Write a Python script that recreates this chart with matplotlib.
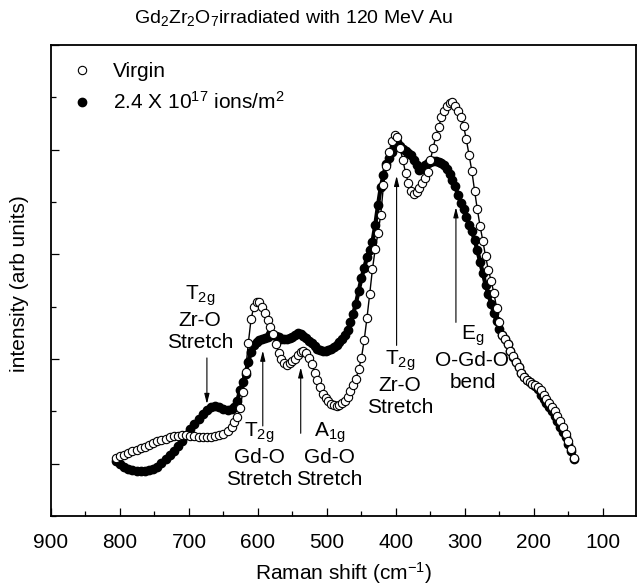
import matplotlib
matplotlib.use('Agg')
import matplotlib.pyplot as plt
from matplotlib.ticker import MultipleLocator

plt.rcParams['font.family'] = ['Liberation Sans', 'DejaVu Sans']
plt.rcParams['mathtext.fontset'] = 'custom'
plt.rcParams['mathtext.rm'] = 'Liberation Sans'
plt.rcParams['mathtext.it'] = 'Liberation Sans:italic'
plt.rcParams['mathtext.default'] = 'regular'

# Raman shift (cm^-1), shared by both spectra
raman_shift = [
    806, 800, 794, 788, 782, 776, 770, 764, 758, 752, 746, 740, 734, 728, 722,
    716, 710, 704, 698, 692, 686, 680, 674, 668, 662, 656, 650, 644, 638,
    634, 630, 626, 622, 618, 614, 610, 606, 602, 598, 594, 590, 586, 582, 578,
    574, 570, 566, 562, 558, 554, 550, 546, 542, 538, 534, 530, 526, 522, 518,
    514, 510, 506, 502, 498, 494, 490, 486, 482, 478, 474, 470, 466, 462, 458,
    454, 450, 446, 442, 438, 434, 430, 426, 422, 418, 414, 410, 406, 402, 398,
    394, 390, 386, 382, 378, 374, 370, 366, 362, 358, 354, 350, 346, 342, 338,
    334, 330, 326, 322, 318, 314, 310, 306, 302, 298, 294, 290, 286, 282, 278,
    274, 270, 266, 262, 258, 254, 250, 246, 242, 238, 234, 230, 226, 222, 218,
    214, 210, 206, 202, 198, 194, 190, 186, 182, 178, 174, 170, 166, 162, 158,
    154, 150, 146, 142,
]

virgin = [
    0.05, 0.07, 0.08, 0.10, 0.12, 0.13, 0.15, 0.16, 0.18, 0.20, 0.22, 0.23, 0.24, 0.25, 0.26,
    0.26, 0.27, 0.27, 0.26, 0.26, 0.25, 0.25, 0.25, 0.25, 0.26, 0.27, 0.28, 0.31, 0.35,
    0.40, 0.45, 0.53, 0.68, 0.88, 1.15, 1.38, 1.50, 1.54, 1.54, 1.50, 1.44, 1.37, 1.31, 1.24,
    1.14, 1.06, 1.00, 0.96, 0.94, 0.96, 0.98, 1.00, 1.04, 1.07, 1.08, 1.06, 1.01, 0.95, 0.87,
    0.80, 0.73, 0.67, 0.63, 0.60, 0.57, 0.56, 0.55, 0.56, 0.58, 0.60, 0.64, 0.69, 0.75, 0.81,
    0.90, 1.01, 1.18, 1.39, 1.62, 1.86, 2.05, 2.20, 2.38, 2.66, 2.84, 2.98, 3.08, 3.14, 3.12,
    3.02, 2.90, 2.78, 2.68, 2.61, 2.58, 2.60, 2.63, 2.68, 2.73, 2.79, 2.90, 3.02, 3.13, 3.22,
    3.31, 3.37, 3.42, 3.45, 3.46, 3.42, 3.37, 3.31, 3.23, 3.10, 2.95, 2.80, 2.61, 2.43, 2.27,
    2.13, 1.98, 1.85, 1.75, 1.63, 1.49, 1.35, 1.23, 1.19, 1.14, 1.08, 1.03, 0.97, 0.92, 0.87,
    0.83, 0.80, 0.78, 0.76, 0.75, 0.73, 0.70, 0.66, 0.62, 0.58, 0.54, 0.50, 0.46, 0.41, 0.35,
    0.28, 0.22, 0.14, 0.05,
]

irradiated = [
    0.03, 0.00, -0.03, -0.05, -0.06, -0.07, -0.07, -0.07, -0.06, -0.05, -0.03, 0.01, 0.04, 0.08, 0.12,
    0.17, 0.22, 0.27, 0.33, 0.38, 0.43, 0.47, 0.51, 0.54, 0.55, 0.54, 0.52, 0.51, 0.52,
    0.54, 0.60, 0.70, 0.78, 0.86, 0.97, 1.07, 1.13, 1.16, 1.18, 1.19, 1.20, 1.21, 1.24, 1.23,
    1.22, 1.21, 1.19, 1.19, 1.19, 1.20, 1.21, 1.23, 1.25, 1.24, 1.22, 1.20, 1.17, 1.15, 1.12,
    1.10, 1.09, 1.08, 1.08, 1.09, 1.10, 1.11, 1.13, 1.16, 1.19, 1.23, 1.28, 1.35, 1.43, 1.53,
    1.65, 1.77, 1.87, 1.97, 2.04, 2.12, 2.28, 2.47, 2.64, 2.76, 2.86, 2.92, 2.98, 3.03, 3.07,
    3.04, 3.01, 2.99, 2.97, 2.95, 2.90, 2.85, 2.81, 2.82, 2.85, 2.87, 2.88, 2.89, 2.89, 2.88,
    2.87, 2.85, 2.82, 2.77, 2.71, 2.65, 2.57, 2.49, 2.43, 2.36, 2.28, 2.22, 2.14, 2.04, 1.93,
    1.82, 1.71, 1.62, 1.53, 1.44, 1.36, 1.29, 1.23, 1.19, 1.14, 1.08, 1.02, 0.97, 0.92, 0.87,
    0.83, 0.80, 0.78, 0.76, 0.74, 0.71, 0.66, 0.62, 0.58, 0.54, 0.50, 0.46, 0.41, 0.35, 0.30,
    0.25, 0.19, 0.12, 0.04,
]

# peak assignments: (label, text x, text y, arrow x, arrow tail y, arrow head y)
peak_labels = [
    ('T$_{2g}$\nZr-O\nStretch', 684, 1.72, 674, 1.01, 0.57),
    ('T$_{2g}$\nGd-O\nStretch', 598, 0.41, 593, 0.36, 1.08),
    ('A$_{1g}$\nGd-O\nStretch', 496, 0.41, 538, 0.29, 0.92),
    ('T$_{2g}$\nZr-O\nStretch', 394, 1.10, 399, 1.13, 2.75),
    ('E$_g$\nO-Gd-O\nbend', 289, 1.34, 313, 1.35, 2.45),
]


def main():
    fig = plt.figure(figsize=(6.4, 5.85), dpi=100)
    ax = fig.add_axes([0.0797, 0.118, 0.914, 0.805])

    ax.plot(raman_shift, irradiated, '-', color='black', lw=3.0, zorder=2)
    ax.plot(raman_shift, irradiated, 'o', color='black', ms=6, zorder=3,
            label='2.4 X 10$^{17}$ ions/m$^2$')
    ax.plot(raman_shift, virgin, '-', color='black', lw=1.0, zorder=4)
    ax.plot(raman_shift, virgin, 'o', mfc='white', mec='black', ms=6,
            mew=0.8, zorder=5, label='Virgin')

    for label, tx, ty, axx, y0, y1 in peak_labels:
        ax.text(tx, ty, label, ha='center', va='top', fontsize=15, linespacing=1.2)
        ax.annotate('', xy=(axx, y1), xytext=(axx, y0),
                    arrowprops=dict(arrowstyle='-|>,head_length=0.6,head_width=0.15',
                                    color='black', lw=0.8, shrinkA=0, shrinkB=0))

    ax.set_xlim(900, 52)
    ax.set_ylim(-0.5, 4.0)
    ax.xaxis.set_major_locator(MultipleLocator(100))
    ax.xaxis.set_minor_locator(MultipleLocator(50))
    ax.yaxis.set_major_locator(MultipleLocator(1))
    ax.yaxis.set_minor_locator(MultipleLocator(0.5))
    ax.tick_params(which='both', direction='in', width=0.9, labelsize=15, pad=12)
    ax.tick_params(which='major', length=6)
    ax.tick_params(which='minor', length=3.5)
    ax.tick_params(axis='y', labelleft=False)
    for sp in ax.spines.values():
        sp.set_linewidth(1.3)

    ax.set_xlabel('Raman shift (cm$^{-1}$)', fontsize=15, labelpad=6)
    fig.text(0.031, 0.515, 'intensity (arb units)', rotation=90, fontsize=15,
             ha='center', va='center')
    fig.text(0.458, 0.969, 'Gd$_2$Zr$_2$O$_7$irradiated with 120 MeV Au',
             fontsize=14, ha='center', va='center')

    handles, labels = ax.get_legend_handles_labels()
    ax.legend(handles[::-1], labels[::-1], loc='upper left', frameon=False,
              fontsize=15, handlelength=1.0, handletextpad=1.0, labelspacing=0.5,
              borderaxespad=0.3, bbox_to_anchor=(0.01, 0.995))

    fig.savefig('out.png', dpi=100)
    plt.close(fig)


if __name__ == '__main__':
    main()
